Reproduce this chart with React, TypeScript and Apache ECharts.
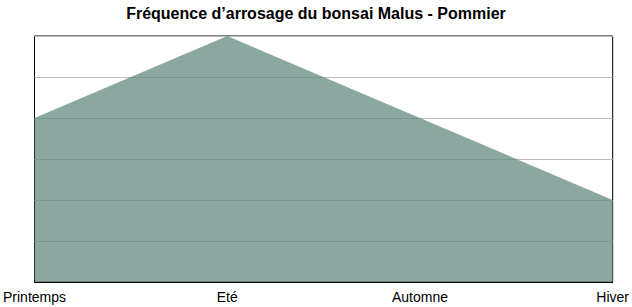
import React, { useEffect, useRef } from "react";
import * as echarts from "echarts";

const categories = ["Printemps", "Eté", "Automne", "Hiver"];
const values = [4, 6, 4, 2];
const titleText = "Fréquence d’arrosage du bonsai Malus - Pommier";

export default function App() {
  const ref = useRef<HTMLDivElement>(null);
  useEffect(() => {
    const chart = echarts.init(ref.current!, null, { renderer: "svg" });
    chart.setOption({
      animation: false,
      title: {
        text: titleText,
        left: "center",
        top: 0,
        textStyle: {
          fontFamily: "Liberation Sans, Arial, sans-serif",
          fontSize: 16,
          fontWeight: "bold",
          color: "#000",
        },
      },
      grid: {
        left: 33,
        right: 18,
        top: 36,
        bottom: 25,
        show: true,
        borderColor: "#000",
        borderWidth: 1,
        backgroundColor: "#fff",
      },
      xAxis: {
        type: "category",
        data: categories,
        boundaryGap: false,
        axisLine: { show: true, lineStyle: { color: "#000", width: 1 } },
        axisTick: { show: false },
        axisLabel: {
          margin: 8,
          fontFamily: "Liberation Sans, Arial, sans-serif",
          fontSize: 14,
          color: "#000",
          showMinLabel: true,
          showMaxLabel: true,
          interval: 0,
        },
        splitLine: { show: false },
      },
      yAxis: {
        type: "value",
        min: 0,
        max: 6,
        interval: 1,
        axisLine: { show: false },
        axisTick: { show: false },
        axisLabel: { show: false },
        splitLine: { show: true, lineStyle: { color: "#bbbbbb", width: 1 } },
      },
      series: [
        {
          type: "line",
          data: values,
          symbol: "none",
          lineStyle: { width: 0 },
          areaStyle: { color: "rgb(100,139,128)", opacity: 0.75 },
        },
      ],
    });
    return () => chart.dispose();
  }, []);
  return <div ref={ref} style={{ width: 632, height: 307, position: "absolute", left: 0, top: 0 }} />;
}
